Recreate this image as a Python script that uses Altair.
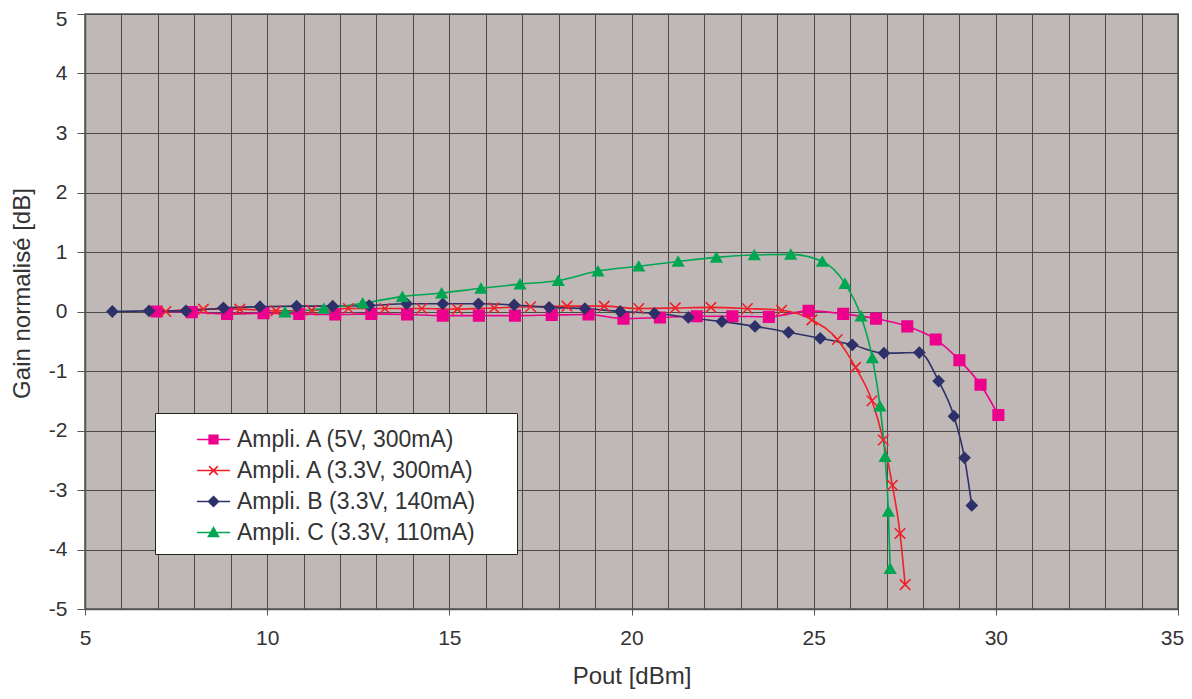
import altair as alt
import pandas as pd

series_names = [
    "Ampli. A (5V, 300mA)",
    "Ampli. A (3.3V, 300mA)",
    "Ampli. B (3.3V, 140mA)",
    "Ampli. C (3.3V, 110mA)",
]
series_colors = ["#EC008C", "#F0202A", "#2E3169", "#00A651"]

a5_x = [6.97, 7.93, 8.9, 9.9, 10.88, 11.87, 12.86, 13.84, 14.82, 15.81, 16.8, 17.81, 18.82,
        19.78, 20.78, 21.79, 22.77, 23.77, 24.86, 25.81, 26.71, 27.57, 28.35, 29.0, 29.58, 30.07]
a5_y = [0.0, -0.01, -0.04, -0.03, -0.04, -0.05, -0.04, -0.05, -0.07, -0.07, -0.07, -0.06, -0.05,
        -0.12, -0.1, -0.08, -0.08, -0.09, 0.01, -0.04, -0.12, -0.25, -0.47, -0.82, -1.23, -1.74]

a33_x = [7.22, 8.25, 9.25, 10.24, 11.22, 12.23, 13.23, 14.24, 15.22, 16.23, 17.23, 18.23, 19.25,
         20.2, 21.2, 22.18, 23.18, 24.12, 24.95, 25.65, 26.15, 26.6, 26.91, 27.16, 27.37, 27.51]
a33_y = [0.0, 0.04, 0.04, 0.01, 0.02, 0.05, 0.05, 0.05, 0.04, 0.06, 0.08, 0.09, 0.09,
         0.05, 0.06, 0.07, 0.05, 0.02, -0.14, -0.47, -0.94, -1.5, -2.16, -2.92, -3.73, -4.59]

b_x = [5.75, 6.76, 7.77, 8.8, 9.8, 10.81, 11.8, 12.8, 13.83, 14.82, 15.8, 16.78, 17.74, 18.72,
       19.69, 20.63, 21.56, 22.48, 23.39, 24.31, 25.18, 26.06, 26.93, 27.9, 28.43, 28.85, 29.14, 29.34]
b_y = [0.0, 0.01, 0.01, 0.06, 0.08, 0.09, 0.09, 0.1, 0.13, 0.13, 0.13, 0.11, 0.07, 0.05,
       0.0, -0.03, -0.1, -0.17, -0.25, -0.35, -0.45, -0.56, -0.7, -0.69, -1.17, -1.76, -2.46, -3.26]

c_x = [10.49, 11.56, 12.62, 13.71, 14.79, 15.87, 16.94, 17.99, 19.08, 20.2, 21.28, 22.33, 23.37,
       24.37, 25.24, 25.86, 26.3, 26.61, 26.82, 26.96, 27.05, 27.1]
c_y = [-0.01, 0.05, 0.14, 0.25, 0.31, 0.39, 0.46, 0.52, 0.68, 0.76, 0.84, 0.91, 0.95,
       0.96, 0.84, 0.47, -0.08, -0.78, -1.59, -2.44, -3.36, -4.32]

x_ticks = list(range(5, 36))
y_ticks = list(range(-5, 6))

rows = []
for name, xs, ys in zip(series_names, [a5_x, a33_x, b_x, c_x], [a5_y, a33_y, b_y, c_y]):
    for i, (xv, yv) in enumerate(zip(xs, ys)):
        rows.append({"series": name, "x": xv, "y": yv, "order": i})
df = pd.DataFrame(rows)

FONT = "Liberation Sans"
TXT = "#333333"

marker_shapes = ["square", "M-1,-1L1,1M-1,1L1,-1", "diamond", "triangle-up"]
legend_shapes = [
    "M-1,0H1M-0.26,-0.26H0.26V0.26H-0.26Z",
    "M-1,0H1M-0.26,-0.26L0.26,0.26M-0.26,0.26L0.26,-0.26",
    "M-1,0H1M-0.3,0L0,-0.3L0.3,0L0,0.3Z",
    "M-1,0H1M-0.3,0.24L0,-0.3L0.3,0.24Z",
]

x_enc = alt.X(
    "x:Q",
    scale=alt.Scale(domain=[5, 35], nice=False, zero=False),
    axis=alt.Axis(
        title="Pout [dBm]",
        values=x_ticks,
        tickCount=len(x_ticks),
        labelOverlap=False,
        labelFlush=False,
        labelExpr="datum.value % 5 == 0 ? datum.label : ''",
        labelOffset={"condition": {"test": "datum.value == 35", "value": -6}, "value": 0},
        tickOpacity={"condition": {"test": "datum.value % 5 == 0", "value": 1}, "value": 0},
        tickSize=6,
        labelPadding=12,
        labelFontSize=21,
        titleFontSize=24,
        titlePadding=16,
        grid=True,
    ),
)
y_enc = alt.Y(
    "y:Q",
    scale=alt.Scale(domain=[-5, 5], nice=False, zero=False),
    axis=alt.Axis(
        title="Gain normalisé [dB]",
        values=y_ticks,
        labelExpr="'' + datum.value",
        labelFlush=False,
        labelOffset={"condition": {"test": "datum.value == 5", "value": 5}, "value": 0},
        tickSize=8,
        labelPadding=10,
        labelFontSize=21,
        titleFontSize=24,
        titlePadding=14,
        titleY=279,
        grid=True,
    ),
)

base = alt.Chart(df)

lines = base.mark_line(strokeWidth=1.6, interpolate="monotone", clip=True).encode(
    x=x_enc,
    y=y_enc,
    color=alt.Color("series:N", scale=alt.Scale(domain=series_names, range=series_colors), legend=None),
    order="order:Q",
)

points = base.mark_point(strokeWidth=1.6, opacity=1, clip=True).encode(
    x="x:Q",
    y="y:Q",
    fill=alt.Fill("series:N", scale=alt.Scale(domain=series_names, range=series_colors), legend=None),
    stroke=alt.Stroke("series:N", scale=alt.Scale(domain=series_names, range=series_colors), legend=None),
    shape=alt.Shape("series:N", scale=alt.Scale(domain=series_names, range=marker_shapes), legend=None),
    size=alt.value(110),
)

PAD = "\u00a0" * 5 + "\u200d"
LEG_EXPR = "datum.label + '" + PAD + "'"
legend_layer = base.mark_point(strokeWidth=1.6, opacity=0).encode(
    x="x:Q",
    y="y:Q",
    fill=alt.Fill("series:N", scale=alt.Scale(domain=series_names, range=series_colors),
                  legend=alt.Legend(title=None, labelExpr=LEG_EXPR)),
    stroke=alt.Stroke("series:N", scale=alt.Scale(domain=series_names, range=series_colors),
                      legend=alt.Legend(title=None, labelExpr=LEG_EXPR)),
    shape=alt.Shape("series:N", scale=alt.Scale(domain=series_names, range=legend_shapes),
                    legend=alt.Legend(title=None, labelExpr=LEG_EXPR)),
)

chart = (
    alt.layer(lines, points, legend_layer)
    .resolve_scale(shape="independent", fill="independent", stroke="independent")
    .properties(
        width=1093,
        height=595,
        autosize=alt.AutoSizeParams(type="none"),
        padding={"left": 77, "top": 6, "right": 6, "bottom": 82},
        background="white",
    )
    .configure_view(fill="#C0B8B6", stroke="#555555", strokeWidth=1.5)
    .configure_axis(
        labelFont=FONT,
        titleFont=FONT,
        titleFontWeight="normal",
        labelColor=TXT,
        titleColor=TXT,
        gridColor="#4a4a4a",
        gridWidth=1,
        gridOpacity=1,
        domainColor="#555555",
        tickColor="#555555",
        domainWidth=1.5,
    )
    .configure_legend(
        orient="none",
        legendX=70,
        legendY=399,
        fillColor="white",
        strokeColor="#222222",
        strokeWidth=1,
        padding=9,
        symbolSize=1100,
        symbolStrokeWidth=1.6,
        symbolOpacity=1,
        symbolOffset=32,
        labelFont=FONT,
        labelFontSize=23,
        labelColor=TXT,
        labelLimit=500,
        labelOffset=6,
        rowPadding=1,
    )
)

chart.save("out.html", embed_options={"renderer": "svg", "actions": False})
